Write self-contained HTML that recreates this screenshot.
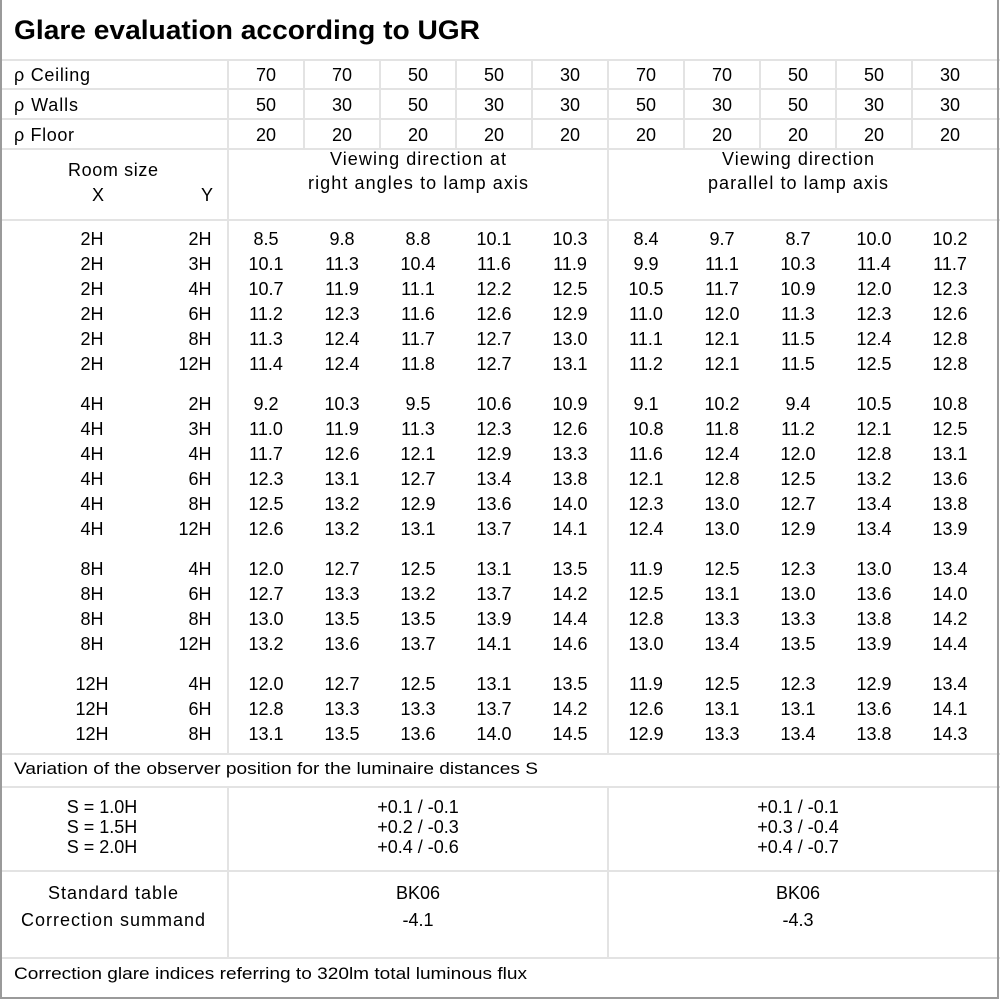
<!DOCTYPE html>
<html><head><meta charset="utf-8"><style>
html,body{margin:0;padding:0;background:#fff}
svg{display:block}
text{font-family:"Liberation Sans",sans-serif;font-size:18px;fill:#000}
.c{text-anchor:middle}
.r{text-anchor:end}
</style></head><body>
<svg width="1000" height="1000" xmlns="http://www.w3.org/2000/svg">
<rect x="0" y="0" width="1000" height="1000" fill="#fff"/>
<g stroke="#e3e3e3" stroke-width="2">
<line x1="0" y1="60" x2="1000" y2="60"/>
<line x1="0" y1="89" x2="1000" y2="89"/>
<line x1="0" y1="119" x2="1000" y2="119"/>
<line x1="0" y1="149" x2="1000" y2="149"/>
<line x1="0" y1="220" x2="1000" y2="220"/>
<line x1="0" y1="754" x2="1000" y2="754"/>
<line x1="0" y1="787" x2="1000" y2="787"/>
<line x1="0" y1="871" x2="1000" y2="871"/>
<line x1="0" y1="958" x2="1000" y2="958"/>
<line x1="228" y1="60" x2="228" y2="754"/><line x1="228" y1="787" x2="228" y2="958"/>
<line x1="608" y1="60" x2="608" y2="754"/><line x1="608" y1="787" x2="608" y2="958"/>
<line x1="304" y1="60" x2="304" y2="149"/><line x1="380" y1="60" x2="380" y2="149"/>
<line x1="456" y1="60" x2="456" y2="149"/><line x1="532" y1="60" x2="532" y2="149"/>
<line x1="684" y1="60" x2="684" y2="149"/><line x1="760" y1="60" x2="760" y2="149"/>
<line x1="836" y1="60" x2="836" y2="149"/><line x1="912" y1="60" x2="912" y2="149"/>
</g>
<path d="M1 0 V998 H998 V0" fill="none" stroke="#9a9a9a" stroke-width="2"/>
<text x="14" y="39" style="font-weight:bold;font-size:27px" textLength="466" lengthAdjust="spacingAndGlyphs">Glare evaluation according to UGR</text>

<text x="14" y="81" textLength="76">ρ Ceiling</text>
<text x="14" y="111" textLength="64">ρ Walls</text>
<text x="14" y="141" textLength="60">ρ Floor</text>
<g class="c">
<text y="81"><tspan x="266">70</tspan><tspan x="342">70</tspan><tspan x="418">50</tspan><tspan x="494">50</tspan><tspan x="570">30</tspan><tspan x="646">70</tspan><tspan x="722">70</tspan><tspan x="798">50</tspan><tspan x="874">50</tspan><tspan x="950">30</tspan></text>
<text y="111"><tspan x="266">50</tspan><tspan x="342">30</tspan><tspan x="418">50</tspan><tspan x="494">30</tspan><tspan x="570">30</tspan><tspan x="646">50</tspan><tspan x="722">30</tspan><tspan x="798">50</tspan><tspan x="874">30</tspan><tspan x="950">30</tspan></text>
<text y="141"><tspan x="266">20</tspan><tspan x="342">20</tspan><tspan x="418">20</tspan><tspan x="494">20</tspan><tspan x="570">20</tspan><tspan x="646">20</tspan><tspan x="722">20</tspan><tspan x="798">20</tspan><tspan x="874">20</tspan><tspan x="950">20</tspan></text>
<text x="113" y="176" textLength="90">Room size</text>
<text x="98" y="201">X</text>
<text x="207" y="201">Y</text>
<text x="418" y="165" textLength="176">Viewing direction at</text>
<text x="418" y="189" textLength="220">right angles to lamp axis</text>
<text x="798" y="165" textLength="152">Viewing direction</text>
<text x="798" y="189" textLength="180">parallel to lamp axis</text>
</g>

<g class="c">
<text y="245"><tspan x="92">2H</tspan><tspan x="200">2H</tspan><tspan x="266">8.5</tspan><tspan x="342">9.8</tspan><tspan x="418">8.8</tspan><tspan x="494">10.1</tspan><tspan x="570">10.3</tspan><tspan x="646">8.4</tspan><tspan x="722">9.7</tspan><tspan x="798">8.7</tspan><tspan x="874">10.0</tspan><tspan x="950">10.2</tspan></text>
<text y="270"><tspan x="92">2H</tspan><tspan x="200">3H</tspan><tspan x="266">10.1</tspan><tspan x="342">11.3</tspan><tspan x="418">10.4</tspan><tspan x="494">11.6</tspan><tspan x="570">11.9</tspan><tspan x="646">9.9</tspan><tspan x="722">11.1</tspan><tspan x="798">10.3</tspan><tspan x="874">11.4</tspan><tspan x="950">11.7</tspan></text>
<text y="295"><tspan x="92">2H</tspan><tspan x="200">4H</tspan><tspan x="266">10.7</tspan><tspan x="342">11.9</tspan><tspan x="418">11.1</tspan><tspan x="494">12.2</tspan><tspan x="570">12.5</tspan><tspan x="646">10.5</tspan><tspan x="722">11.7</tspan><tspan x="798">10.9</tspan><tspan x="874">12.0</tspan><tspan x="950">12.3</tspan></text>
<text y="320"><tspan x="92">2H</tspan><tspan x="200">6H</tspan><tspan x="266">11.2</tspan><tspan x="342">12.3</tspan><tspan x="418">11.6</tspan><tspan x="494">12.6</tspan><tspan x="570">12.9</tspan><tspan x="646">11.0</tspan><tspan x="722">12.0</tspan><tspan x="798">11.3</tspan><tspan x="874">12.3</tspan><tspan x="950">12.6</tspan></text>
<text y="345"><tspan x="92">2H</tspan><tspan x="200">8H</tspan><tspan x="266">11.3</tspan><tspan x="342">12.4</tspan><tspan x="418">11.7</tspan><tspan x="494">12.7</tspan><tspan x="570">13.0</tspan><tspan x="646">11.1</tspan><tspan x="722">12.1</tspan><tspan x="798">11.5</tspan><tspan x="874">12.4</tspan><tspan x="950">12.8</tspan></text>
<text y="370"><tspan x="92">2H</tspan><tspan x="195">12H</tspan><tspan x="266">11.4</tspan><tspan x="342">12.4</tspan><tspan x="418">11.8</tspan><tspan x="494">12.7</tspan><tspan x="570">13.1</tspan><tspan x="646">11.2</tspan><tspan x="722">12.1</tspan><tspan x="798">11.5</tspan><tspan x="874">12.5</tspan><tspan x="950">12.8</tspan></text>

<text y="410"><tspan x="92">4H</tspan><tspan x="200">2H</tspan><tspan x="266">9.2</tspan><tspan x="342">10.3</tspan><tspan x="418">9.5</tspan><tspan x="494">10.6</tspan><tspan x="570">10.9</tspan><tspan x="646">9.1</tspan><tspan x="722">10.2</tspan><tspan x="798">9.4</tspan><tspan x="874">10.5</tspan><tspan x="950">10.8</tspan></text>
<text y="435"><tspan x="92">4H</tspan><tspan x="200">3H</tspan><tspan x="266">11.0</tspan><tspan x="342">11.9</tspan><tspan x="418">11.3</tspan><tspan x="494">12.3</tspan><tspan x="570">12.6</tspan><tspan x="646">10.8</tspan><tspan x="722">11.8</tspan><tspan x="798">11.2</tspan><tspan x="874">12.1</tspan><tspan x="950">12.5</tspan></text>
<text y="460"><tspan x="92">4H</tspan><tspan x="200">4H</tspan><tspan x="266">11.7</tspan><tspan x="342">12.6</tspan><tspan x="418">12.1</tspan><tspan x="494">12.9</tspan><tspan x="570">13.3</tspan><tspan x="646">11.6</tspan><tspan x="722">12.4</tspan><tspan x="798">12.0</tspan><tspan x="874">12.8</tspan><tspan x="950">13.1</tspan></text>
<text y="485"><tspan x="92">4H</tspan><tspan x="200">6H</tspan><tspan x="266">12.3</tspan><tspan x="342">13.1</tspan><tspan x="418">12.7</tspan><tspan x="494">13.4</tspan><tspan x="570">13.8</tspan><tspan x="646">12.1</tspan><tspan x="722">12.8</tspan><tspan x="798">12.5</tspan><tspan x="874">13.2</tspan><tspan x="950">13.6</tspan></text>
<text y="510"><tspan x="92">4H</tspan><tspan x="200">8H</tspan><tspan x="266">12.5</tspan><tspan x="342">13.2</tspan><tspan x="418">12.9</tspan><tspan x="494">13.6</tspan><tspan x="570">14.0</tspan><tspan x="646">12.3</tspan><tspan x="722">13.0</tspan><tspan x="798">12.7</tspan><tspan x="874">13.4</tspan><tspan x="950">13.8</tspan></text>
<text y="535"><tspan x="92">4H</tspan><tspan x="195">12H</tspan><tspan x="266">12.6</tspan><tspan x="342">13.2</tspan><tspan x="418">13.1</tspan><tspan x="494">13.7</tspan><tspan x="570">14.1</tspan><tspan x="646">12.4</tspan><tspan x="722">13.0</tspan><tspan x="798">12.9</tspan><tspan x="874">13.4</tspan><tspan x="950">13.9</tspan></text>

<text y="575"><tspan x="92">8H</tspan><tspan x="200">4H</tspan><tspan x="266">12.0</tspan><tspan x="342">12.7</tspan><tspan x="418">12.5</tspan><tspan x="494">13.1</tspan><tspan x="570">13.5</tspan><tspan x="646">11.9</tspan><tspan x="722">12.5</tspan><tspan x="798">12.3</tspan><tspan x="874">13.0</tspan><tspan x="950">13.4</tspan></text>
<text y="600"><tspan x="92">8H</tspan><tspan x="200">6H</tspan><tspan x="266">12.7</tspan><tspan x="342">13.3</tspan><tspan x="418">13.2</tspan><tspan x="494">13.7</tspan><tspan x="570">14.2</tspan><tspan x="646">12.5</tspan><tspan x="722">13.1</tspan><tspan x="798">13.0</tspan><tspan x="874">13.6</tspan><tspan x="950">14.0</tspan></text>
<text y="625"><tspan x="92">8H</tspan><tspan x="200">8H</tspan><tspan x="266">13.0</tspan><tspan x="342">13.5</tspan><tspan x="418">13.5</tspan><tspan x="494">13.9</tspan><tspan x="570">14.4</tspan><tspan x="646">12.8</tspan><tspan x="722">13.3</tspan><tspan x="798">13.3</tspan><tspan x="874">13.8</tspan><tspan x="950">14.2</tspan></text>
<text y="650"><tspan x="92">8H</tspan><tspan x="195">12H</tspan><tspan x="266">13.2</tspan><tspan x="342">13.6</tspan><tspan x="418">13.7</tspan><tspan x="494">14.1</tspan><tspan x="570">14.6</tspan><tspan x="646">13.0</tspan><tspan x="722">13.4</tspan><tspan x="798">13.5</tspan><tspan x="874">13.9</tspan><tspan x="950">14.4</tspan></text>

<text y="690"><tspan x="92">12H</tspan><tspan x="200">4H</tspan><tspan x="266">12.0</tspan><tspan x="342">12.7</tspan><tspan x="418">12.5</tspan><tspan x="494">13.1</tspan><tspan x="570">13.5</tspan><tspan x="646">11.9</tspan><tspan x="722">12.5</tspan><tspan x="798">12.3</tspan><tspan x="874">12.9</tspan><tspan x="950">13.4</tspan></text>
<text y="715"><tspan x="92">12H</tspan><tspan x="200">6H</tspan><tspan x="266">12.8</tspan><tspan x="342">13.3</tspan><tspan x="418">13.3</tspan><tspan x="494">13.7</tspan><tspan x="570">14.2</tspan><tspan x="646">12.6</tspan><tspan x="722">13.1</tspan><tspan x="798">13.1</tspan><tspan x="874">13.6</tspan><tspan x="950">14.1</tspan></text>
<text y="740"><tspan x="92">12H</tspan><tspan x="200">8H</tspan><tspan x="266">13.1</tspan><tspan x="342">13.5</tspan><tspan x="418">13.6</tspan><tspan x="494">14.0</tspan><tspan x="570">14.5</tspan><tspan x="646">12.9</tspan><tspan x="722">13.3</tspan><tspan x="798">13.4</tspan><tspan x="874">13.8</tspan><tspan x="950">14.3</tspan></text>
</g>

<text x="14" y="774" style="font-size:17px" textLength="524" lengthAdjust="spacingAndGlyphs">Variation of the observer position for the luminaire distances S</text>
<g class="c">
<text y="813"><tspan x="102">S = 1.0H</tspan><tspan x="418">+0.1 / -0.1</tspan><tspan x="798">+0.1 / -0.1</tspan></text>
<text y="833"><tspan x="102">S = 1.5H</tspan><tspan x="418">+0.2 / -0.3</tspan><tspan x="798">+0.3 / -0.4</tspan></text>
<text y="853"><tspan x="102">S = 2.0H</tspan><tspan x="418">+0.4 / -0.6</tspan><tspan x="798">+0.4 / -0.7</tspan></text>
<text x="113" y="899" textLength="130">Standard table</text>
<text x="113" y="926" textLength="184">Correction summand</text>
<text y="899"><tspan x="418">BK06</tspan><tspan x="798">BK06</tspan></text>
<text y="926"><tspan x="418">-4.1</tspan><tspan x="798">-4.3</tspan></text>
</g>
<text x="14" y="979" style="font-size:17px" textLength="513" lengthAdjust="spacingAndGlyphs">Correction glare indices referring to 320lm total luminous flux</text>
</svg>
</body></html>
